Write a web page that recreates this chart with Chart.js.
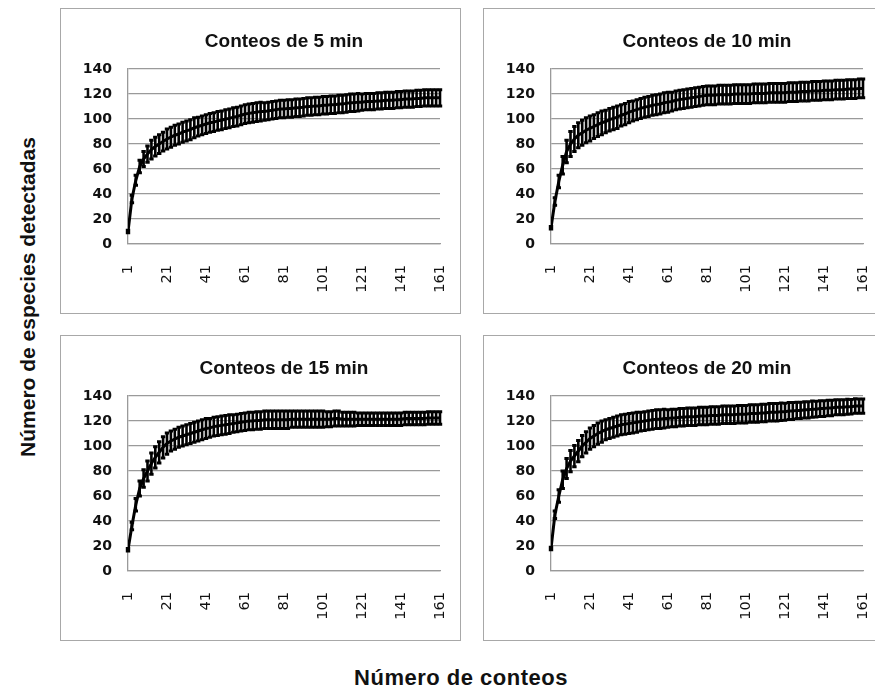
<!DOCTYPE html>
<html>
<head>
<meta charset="utf-8">
<title>Curvas de acumulación de especies</title>
<script src="https://cdn.jsdelivr.net/npm/chart.js@4.4.1/dist/chart.umd.min.js"></script>
<style>
  body { margin: 0; background: #fff; width: 875px; height: 690px; overflow: hidden; position: relative; }
  .box { position: absolute; width: 401px; height: 306px; border: 1.5px solid #a8a8a8; box-sizing: border-box; }
  canvas { position: absolute; }
  .ytitle { position: absolute; left: 28px; top: 297px; transform: translate(-50%, -50%) rotate(-90deg);
            white-space: nowrap; font: bold 21px "Liberation Sans", Arial, sans-serif; color: #111; }
  .xtitle { position: absolute; left: 461px; top: 678px; transform: translate(-50%, -50%);
            white-space: nowrap; font: bold 22px "Liberation Sans", Arial, sans-serif; letter-spacing: 0.5px; color: #111; }
</style>
</head>
<body>

<div class="box" style="left:60px; top:8px;"></div>
<div class="box" style="left:483px; top:8px;"></div>
<div class="box" style="left:60px; top:335px;"></div>
<div class="box" style="left:483px; top:335px;"></div>

<canvas id="c5" width="401" height="306" style="left:60px; top:8px;"></canvas>
<canvas id="c10" width="401" height="306" style="left:483px; top:8px;"></canvas>
<canvas id="c15" width="401" height="306" style="left:60px; top:335px;"></canvas>
<canvas id="c20" width="401" height="306" style="left:483px; top:335px;"></canvas>

<div class="ytitle">Número de especies detectadas</div>
<div class="xtitle">Número de conteos</div>

<script>
// Número de conteos (x)
const conteos = [1, 3, 5, 7, 9, 11, 13, 15, 17, 19, 21, 23, 25, 27, 29, 31, 33, 35, 37, 39,
  41, 43, 45, 47, 49, 51, 53, 55, 57, 59, 61, 63, 65, 67, 69, 71, 73, 75, 77, 79,
  81, 83, 85, 87, 89, 91, 93, 95, 97, 99, 101, 103, 105, 107, 109, 111, 113, 115, 117, 119,
  121, 123, 125, 127, 129, 131, 133, 135, 137, 139, 141, 143, 145, 147, 149, 151, 153, 155, 157, 159, 161];

const xTicks = [1, 21, 41, 61, 81, 101, 121, 141, 161];
const yTicks = [0, 20, 40, 60, 80, 100, 120, 140];

// Conteos de 5 min
const media5 = [10, 36, 51, 62, 68, 72, 75.5, 78, 80, 82, 84, 85.5, 87, 88, 89.5, 90.5, 91.5, 93, 94, 95,
  96, 97, 97.5, 98.5, 99, 100, 100.5, 101.5, 102, 103, 104, 104.5, 105, 105.5, 106, 106, 106.5, 107, 107.5, 108,
  108, 108.5, 108.5, 109, 109, 109.5, 110, 110, 110.5, 110.5, 111, 111, 111.5, 111.5, 112, 112, 112.5, 113, 113, 113.5,
  113.5, 114, 114, 114, 114.5, 114.5, 115, 115, 115, 115.5, 115.5, 116, 116, 116, 116.5, 116.5, 117, 117, 117, 117, 117];
const de5 = [1, 3, 4, 5, 6, 6.5, 7.5, 7.5, 7.5, 7.5, 8, 8, 8, 8, 8, 8, 8, 8, 7.5, 7.5,
  7.5, 7.5, 7.5, 7.5, 7.5, 7.5, 7.5, 7.5, 7.5, 7.5, 7.5, 7.5, 7.5, 7.5, 7.5, 7, 7, 7, 7, 7,
  7, 7, 7, 7, 7, 7, 7, 7, 7, 7, 7, 7, 7, 7, 7, 7, 7, 7, 7, 7,
  6.5, 6.5, 6.5, 6.5, 6.5, 6.5, 6.5, 6.5, 6.5, 6.5, 6.5, 6.5, 6.5, 6.5, 6.5, 6.5, 6.5, 6.5, 6.5, 6.5, 6.5];

// Conteos de 10 min
const media10 = [13, 34, 50, 63, 74, 80, 84, 87, 89, 91, 92.5, 94, 95.5, 97, 98, 99.5, 100.5, 101.5, 103, 104,
  105.5, 106.5, 107.5, 108.5, 109.5, 110, 111, 111.5, 112, 113, 113.5, 114, 115, 115.5, 116, 116.5, 117, 117.5, 118, 118.5,
  119, 119, 119, 119.5, 119.5, 119.5, 119.5, 120, 120, 120, 120, 120, 120.5, 120.5, 120.5, 120.5, 121, 121, 121, 121,
  121, 121.5, 121.5, 121.5, 122, 122, 122, 122.5, 122.5, 122.5, 123, 123, 123, 123.5, 123.5, 123.5, 124, 124, 124, 124.5, 124.5];
const de10 = [1, 3, 5, 7, 9, 10, 10, 10, 10, 10, 10, 9.5, 9.5, 9.5, 9, 9, 9, 9, 8.5, 8.5,
  8.5, 8, 8, 8, 8, 8, 8, 8, 8, 8, 8, 7.5, 7.5, 7.5, 7.5, 7.5, 7.5, 7.5, 7.5, 7.5,
  7.5, 7.5, 7.5, 7.5, 7.5, 7.5, 7.5, 7.5, 7.5, 7.5, 7.5, 7.5, 7.5, 7.5, 7.5, 7.5, 7.5, 7.5, 7.5, 7.5,
  7.5, 7.5, 7.5, 7.5, 7.5, 7.5, 7.5, 7.5, 7.5, 7.5, 7.5, 7.5, 7.5, 7.5, 7.5, 7.5, 7.5, 7.5, 7.5, 7.5, 7.5];

// Conteos de 15 min
const media15 = [17, 36, 53, 66, 74, 80, 86, 91, 95, 99, 102, 104, 105.5, 107, 108, 109, 110, 111, 112, 113,
  114, 114.5, 115.5, 116, 116.5, 117, 117.5, 118, 118.5, 119, 119.5, 120, 120, 120.5, 120.5, 121, 121, 121, 121, 121,
  121, 121, 121.5, 121.5, 121.5, 121.5, 121.5, 121.5, 121.5, 121.5, 121.5, 121.5, 121.5, 122, 122, 121.5, 121.5, 121.5, 121.5, 121.5,
  121.5, 121.5, 121.5, 121.5, 121.5, 121.5, 121.5, 121.5, 121.5, 121.5, 121.5, 122, 122, 122, 122, 122, 122, 122.5, 122.5, 122.5, 122.5];
const de15 = [1, 3, 5, 6, 7, 8, 8.5, 8.5, 8.5, 8.5, 8.5, 8, 8, 8, 8, 8, 8, 8, 8, 8,
  8, 7.5, 7.5, 7.5, 7.5, 7.5, 7.5, 7, 7, 7, 7, 7, 7, 7, 7, 7, 7, 7, 7, 7,
  7, 7, 6.5, 6.5, 6.5, 6.5, 6.5, 6.5, 6.5, 6.5, 6.5, 6, 6, 6, 6, 5.5, 5.5, 5.5, 5.5, 5,
  5, 5, 5, 5, 5, 5, 5, 5, 5, 5, 5, 5, 5, 5, 5, 5, 5, 5, 5, 5, 5];

// Conteos de 20 min
const media20 = [18, 45, 60, 73, 82, 88, 92, 96, 100, 103, 106, 108, 110, 111.5, 113, 114, 115, 116, 117, 117.5,
  118, 118.5, 119, 119.5, 120, 120.5, 121, 121.5, 121.5, 122, 122, 122.5, 122.5, 123, 123, 123.5, 123.5, 123.5, 124, 124,
  124, 124.5, 124.5, 124.5, 125, 125, 125, 125, 125.5, 125.5, 125.5, 126, 126, 126, 126.5, 126.5, 127, 127, 127, 127.5,
  127.5, 128, 128, 128.5, 128.5, 129, 129, 129.5, 129.5, 130, 130, 130.5, 130.5, 131, 131, 131, 131.5, 131.5, 132, 132, 132];
const de20 = [1, 3, 5, 7, 8, 8.5, 8.5, 8.5, 8.5, 8.5, 8.5, 8.5, 8.5, 8.5, 8, 8, 8, 8, 8, 8,
  8, 8, 8, 7.5, 7.5, 7.5, 7.5, 7.5, 7.5, 7.5, 7, 7, 7, 7, 7, 7, 7, 7, 7, 7,
  7, 7, 7, 7, 7, 7, 7, 7, 7, 7, 7, 7, 7, 7, 7, 7, 7, 7, 7, 7,
  6.8, 6.8, 6.8, 6.5, 6.5, 6.5, 6.5, 6.5, 6.3, 6.3, 6.3, 6.2, 6.2, 6, 6, 6, 6, 5.8, 5.8, 5.7, 5.7];

// Error bars drawn with the chart's own scales
const errorBars = {
  id: 'errorBars',
  afterDatasetsDraw(chart, args, opts) {
    const ctx = chart.ctx;
    const xs = chart.scales.x;
    const ys = chart.scales.y;
    const media = opts.media;
    const de = opts.de;
    ctx.save();
    ctx.strokeStyle = '#000';
    for (let i = 0; i < conteos.length; i++) {
      const x = xs.getPixelForValue(conteos[i]);
      const yTop = ys.getPixelForValue(media[i] + de[i]);
      const yBot = ys.getPixelForValue(media[i] - de[i]);
      ctx.lineWidth = 2.6;
      ctx.beginPath();
      ctx.moveTo(x, yTop);
      ctx.lineTo(x, yBot);
      ctx.stroke();
      ctx.lineWidth = 3;
      ctx.beginPath();
      ctx.moveTo(x - 2.2, yTop);
      ctx.lineTo(x + 2.2, yTop);
      ctx.moveTo(x - 2.2, yBot);
      ctx.lineTo(x + 2.2, yBot);
      ctx.stroke();
    }
    ctx.restore();
  }
};

function makeChart(id, titulo, media, de) {
  const ctx = document.getElementById(id).getContext('2d');
  return new Chart(ctx, {
    type: 'line',
    data: {
      datasets: [{
        data: conteos.map((c, i) => ({ x: c, y: media[i] })),
        borderColor: '#000',
        borderWidth: 3,
        pointRadius: 0,
        tension: 0,
        fill: false
      }]
    },
    plugins: [errorBars],
    options: {
      responsive: false,
      animation: false,
      layout: { padding: { left: 0, right: 21, top: 0, bottom: 0 } },
      plugins: {
        legend: { display: false },
        tooltip: { enabled: false },
        title: {
          display: true,
          text: titulo,
          fullSize: false,
          color: '#111',
          font: { family: '"Liberation Sans", Arial, sans-serif', size: 19, weight: 'bold' },
          padding: { top: 22, bottom: 16.2 }
        },
        errorBars: { media: media, de: de }
      },
      scales: {
        x: {
          type: 'linear',
          min: 1,
          max: 161,
          afterBuildTicks: scale => { scale.ticks = xTicks.map(v => ({ value: v })); },
          afterFit: scale => {
            scale.height = 70;
            scale.paddingLeft = 0;
            scale.paddingRight = 0;
          },
          grid: { display: false, drawTicks: false },
          border: { display: true, color: '#9a9a9a', width: 1.3 },
          ticks: {
            minRotation: 90,
            maxRotation: 90,
            padding: 21,
            color: '#111',
            font: { family: '"DejaVu Sans", sans-serif', size: 14.5 }
          }
        },
        y: {
          min: 0,
          max: 140,
          afterBuildTicks: scale => { scale.ticks = yTicks.map(v => ({ value: v })); },
          afterFit: scale => { scale.width = 68; },
          grid: { color: '#9a9a9a', lineWidth: 1.3, drawTicks: false },
          border: { display: true, color: '#9a9a9a', width: 1.3 },
          ticks: {
            padding: 16,
            color: '#111',
            font: { family: '"DejaVu Sans", sans-serif', size: 14, weight: 'bold' }
          }
        }
      }
    }
  });
}

makeChart('c5', 'Conteos de 5 min', media5, de5);
makeChart('c10', 'Conteos de 10 min', media10, de10);
makeChart('c15', 'Conteos de 15 min', media15, de15);
makeChart('c20', 'Conteos de 20 min', media20, de20);
</script>
</body>
</html>
